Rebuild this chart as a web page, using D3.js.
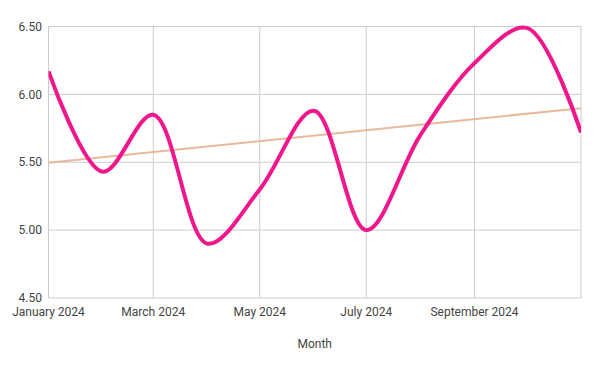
<!DOCTYPE html>
<html>
<head>
<meta charset="utf-8">
<script src="https://d3js.org/d3.v7.min.js"></script>
<style>
  body { margin: 0; background: #fff; }
  text { font-family: Roboto, sans-serif; }
</style>
</head>
<body>
<script>
// monthly values
const months = ['2024-01-01', '2024-02-01', '2024-03-01', '2024-04-01', '2024-05-01', '2024-06-01',
  '2024-07-01', '2024-08-01', '2024-09-01', '2024-10-01', '2024-11-01'];
const values = [6.17, 5.43, 5.85, 4.90, 5.30, 5.88, 5.00, 5.70, 6.23, 6.49, 5.72];
const yTicks = [4.5, 5.0, 5.5, 6.0, 6.5];
const xTicks = ['2024-01-01', '2024-03-01', '2024-05-01', '2024-07-01', '2024-09-01', '2024-11-01'];
const xLabels = ['January 2024', 'March 2024', 'May 2024', 'July 2024', 'September 2024', ''];

const width = 600, height = 371;
const margin = { left: 48.5, right: 581, top: 26.5, bottom: 298 };

const parse = d3.timeParse('%Y-%m-%d');
const data = months.map((m, i) => ({ date: parse(m), value: values[i] }));

const x = d3.scaleTime()
  .domain([parse(months[0]), parse(months[months.length - 1])])
  .range([margin.left, margin.right]);
const y = d3.scaleLinear().domain([4.5, 6.5]).range([margin.bottom, margin.top]);

const svg = d3.select('body').append('svg')
  .attr('width', width)
  .attr('height', height);

// grid
svg.append('g').selectAll('line')
  .data(yTicks)
  .join('line')
  .attr('x1', margin.left).attr('x2', margin.right)
  .attr('y1', d => y(d)).attr('y2', d => y(d))
  .attr('stroke', '#cccccc');

svg.append('g').selectAll('line')
  .data(xTicks)
  .join('line')
  .attr('x1', d => x(parse(d))).attr('x2', d => x(parse(d)))
  .attr('y1', margin.top).attr('y2', margin.bottom)
  .attr('stroke', '#cccccc');

// y labels
svg.append('g').selectAll('text')
  .data(yTicks)
  .join('text')
  .attr('x', 42)
  .attr('y', d => y(d))
  .attr('dy', '0.35em')
  .attr('text-anchor', 'end')
  .attr('font-size', 12)
  .attr('fill', '#444')
  .text(d => d3.format('.2f')(d));

// x labels
svg.append('g').selectAll('text')
  .data(xTicks)
  .join('text')
  .attr('x', d => x(parse(d)))
  .attr('y', 316)
  .attr('text-anchor', 'middle')
  .attr('font-size', 12)
  .attr('fill', '#444')
  .text((d, i) => xLabels[i]);

svg.append('text')
  .attr('x', (margin.left + margin.right) / 2)
  .attr('y', 348)
  .attr('text-anchor', 'middle')
  .attr('font-size', 12)
  .attr('fill', '#444')
  .text('Month');

svg.append('clipPath').attr('id', 'plot')
  .append('rect')
  .attr('x', margin.left).attr('y', margin.top - 3)
  .attr('width', margin.right - margin.left).attr('height', margin.bottom - margin.top + 3);

const plot = svg.append('g').attr('clip-path', 'url(#plot)');

// linear trend line (least squares over the month index)
const n = values.length;
const mx = d3.mean(values, (v, i) => i);
const my = d3.mean(values);
const slope = d3.sum(values, (v, i) => (i - mx) * (v - my)) / d3.sum(values, (v, i) => (i - mx) ** 2);
const trend = data.map((d, i) => ({ date: d.date, value: my + slope * (i - mx) }));

plot.append('path')
  .datum([trend[0], trend[n - 1]])
  .attr('fill', 'none')
  .attr('stroke', '#e8b99a')
  .attr('stroke-width', 2)
  .attr('d', d3.line().x(d => x(d.date)).y(d => y(d.value)));

plot.append('path')
  .datum(data)
  .attr('fill', 'none')
  .attr('stroke', '#f0168c')
  .attr('stroke-width', 4)
  .attr('d', d3.line().curve(d3.curveCatmullRom.alpha(0.5)).x(d => x(d.date)).y(d => y(d.value)));
</script>
</body>
</html>
